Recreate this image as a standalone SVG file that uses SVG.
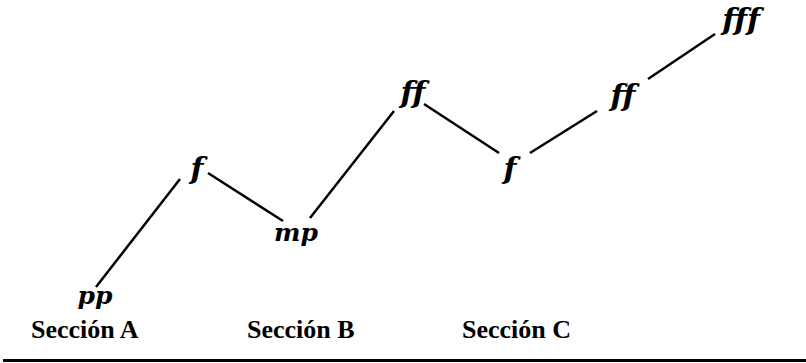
<svg xmlns="http://www.w3.org/2000/svg" width="806" height="363" viewBox="0 0 806 363">
<style>
.dyn{font-family:"DejaVu Serif","Liberation Serif",serif;font-weight:bold;font-style:italic;font-size:30px;fill:#000;text-anchor:middle}
.sm{font-size:25px}
.sec{font-family:"Liberation Serif","Times New Roman",serif;font-weight:bold;font-size:26px;fill:#000}
.conn line{stroke:#000;stroke-width:2.5;stroke-linecap:butt}
</style>
<rect width="806" height="363" fill="#fff"/>
<g class="conn" id="connectors">
<line x1="96" y1="287" x2="180" y2="179"/>
<line x1="208" y1="173" x2="283" y2="221"/>
<line x1="310" y1="218" x2="394" y2="111"/>
<line x1="424" y1="104" x2="499" y2="153"/>
<line x1="530" y1="153" x2="597" y2="111"/>
<line x1="648" y1="79" x2="715" y2="34"/>
</g>
<g id="n1"><text class="dyn sm" x="95" y="304">pp</text></g>
<g id="n2"><text class="dyn" x="197" y="179">f</text></g>
<g id="n3"><text class="dyn sm" x="296" y="241">mp</text></g>
<g id="n4"><text class="dyn" x="413" y="103">ff</text></g>
<g id="n5"><text class="dyn" x="510" y="179">f</text></g>
<g id="n6"><text class="dyn" x="623" y="106">ff</text></g>
<g id="n7"><text class="dyn" x="741" y="30">fff</text></g>
<g id="labels">
<text class="sec" x="31" y="338">Sección A</text>
<text class="sec" x="247" y="338">Sección B</text>
<text class="sec" x="462" y="338">Sección C</text>
</g>
<line x1="3" y1="360.5" x2="806" y2="360.5" stroke="#000" stroke-width="3"/>
</svg>
